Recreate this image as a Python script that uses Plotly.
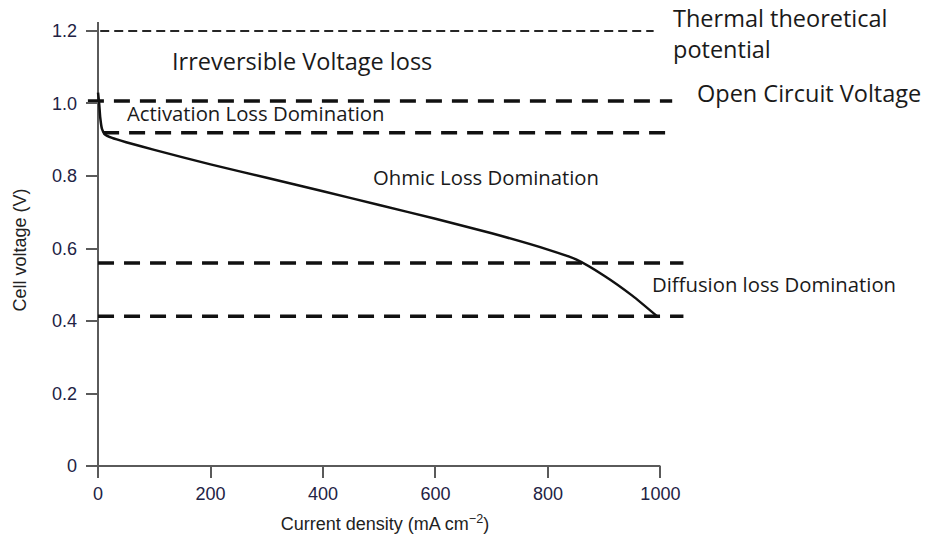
import plotly.graph_objects as go

# Polarization curve of a fuel cell: current density (mA cm^-2) vs cell voltage (V)
current_density = [0, 2, 4, 7, 12, 25, 50, 100, 200, 300, 400, 500, 600, 700, 800, 850, 900, 950, 995]
cell_voltage = [1.03, 1.0, 0.96, 0.93, 0.915, 0.905, 0.893, 0.872, 0.832, 0.795, 0.758, 0.72,
                0.682, 0.642, 0.597, 0.57, 0.525, 0.47, 0.412]

# Reference voltage levels (V) and horizontal extents (mA cm^-2)
thermal_potential = 1.2
thermal_span = [-21, 988]
open_circuit = 1.007
open_circuit_span = [-18, 1021]
activation_limit = 0.919
activation_span = [9, 1014]
ohmic_limit = 0.56
ohmic_span = [0, 1041]
diffusion_limit = 0.413
diffusion_span = [0, 1041]

x_ticks = [0, 200, 400, 600, 800, 1000]
y_ticks = [0, 0.2, 0.4, 0.6, 0.8, 1.0, 1.2]
y_tick_text = ["0", "0.2", "0.4", "0.6", "0.8", "1.0", "1.2"]

axis_color = "#5a5a5a"
label_font = "Liberation Sans, Arial, sans-serif"
note_font = "Open Sans, sans-serif"

# plot area in pixels, used to place the region notes in paper coordinates
PLOT_LEFT, PLOT_W, PLOT_BOTTOM, PLOT_H = 86, 598, 478, 456

fig = go.Figure()

# x axis baseline, ending at 1000
fig.add_trace(go.Scatter(x=[-21.4, 1000], y=[0, 0], mode="lines",
                         line=dict(color=axis_color, width=2), hoverinfo="skip"))

# thin dashed thermal theoretical potential line
fig.add_trace(go.Scatter(x=thermal_span, y=[thermal_potential] * 2, mode="lines",
                         line=dict(color="#262626", width=2, dash="9px,5px")))

# thick dashed region boundaries
for span, level in [(open_circuit_span, open_circuit), (activation_span, activation_limit),
                    (ohmic_span, ohmic_limit), (diffusion_span, diffusion_limit)]:
    fig.add_trace(go.Scatter(x=span, y=[level] * 2, mode="lines",
                             line=dict(color="#111111", width=3.5, dash="16px,10px")))

# polarization curve
fig.add_trace(go.Scatter(x=current_density, y=cell_voltage, mode="lines",
                         line=dict(color="#111111", width=2.5, shape="spline", smoothing=0.6)))


def note(px, py, text, size):
    fig.add_annotation(x=(px - PLOT_LEFT) / PLOT_W, y=(PLOT_BOTTOM - py) / PLOT_H,
                       xref="paper", yref="paper", text=text, showarrow=False,
                       xanchor="left", yanchor="middle", align="left",
                       font=dict(family=note_font, size=size, color="#1a1a1a"))


note(671, 33, "Thermal theoretical<br>potential", 23.5)
note(170, 61, "Irreversible Voltage loss", 23.5)
note(695, 93, "Open Circuit Voltage", 23.5)
note(125, 113, "Activation Loss Domination", 20.3)
note(371, 177, "Ohmic Loss Domination", 20.3)
note(650, 284, "Diffusion loss Domination", 20.3)

fig.update_layout(
    width=928, height=544,
    margin=dict(l=86, r=244, t=22, b=66),
    paper_bgcolor="white", plot_bgcolor="white",
    showlegend=False,
    xaxis=dict(range=[-21.4, 1042], tickvals=x_ticks, ticks="inside", ticklen=12,
               tickwidth=2, tickcolor=axis_color, showgrid=False, showline=False,
               zeroline=True, zerolinecolor=axis_color, zerolinewidth=2,
               ticklabelstandoff=3,
               tickfont=dict(family=label_font, size=18, color="#222244"),
               title=dict(text="Current density (mA cm<sup>\u22122</sup>)",
                          font=dict(family=label_font, size=18, color="#222222"), standoff=14)),
    yaxis=dict(range=[-0.0331, 1.2248], tickvals=y_ticks, ticktext=y_tick_text,
               ticks="inside", ticklen=12, tickwidth=2, tickcolor=axis_color,
               showgrid=False, showline=False, zeroline=False,
               ticklabelstandoff=8,
               tickfont=dict(family=label_font, size=18, color="#222244"),
               title=dict(text="Cell voltage (V)",
                          font=dict(family=label_font, size=18, color="#222222"), standoff=20)),
)

fig.write_html("out.html")
